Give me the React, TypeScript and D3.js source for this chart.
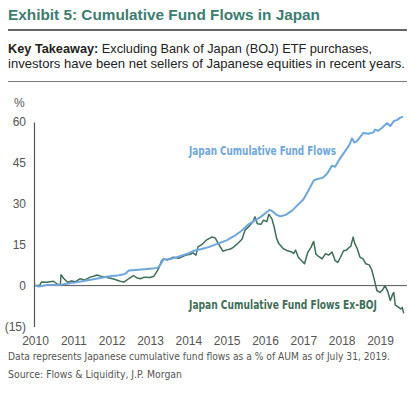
import React, { useEffect, useRef } from 'react';
import * as d3 from 'd3';

const yearTicks = [2010, 2011, 2012, 2013, 2014, 2015, 2016, 2017, 2018, 2019];
const valueTicks = [-15, 0, 15, 30, 45, 60];

// Japan Cumulative Fund Flows (% of AUM)
const totalDates = [
    2010.0, 2010.1, 2010.3, 2010.65, 2010.8, 2011.0, 2011.3, 2011.6, 2011.9, 2012.2,
    2012.35, 2012.45, 2012.7, 2013.0, 2013.2, 2013.28, 2013.35, 2013.55, 2013.8, 2014.0,
    2014.15, 2014.35, 2014.55, 2014.75, 2015.0, 2015.2, 2015.4, 2015.57, 2015.75, 2015.9,
    2016.05, 2016.12, 2016.2, 2016.3, 2016.4, 2016.55, 2016.7, 2016.85, 2017.0, 2017.12,
    2017.27, 2017.35, 2017.5, 2017.62, 2017.75, 2017.83, 2017.95, 2018.1, 2018.2, 2018.27,
    2018.33, 2018.4, 2018.5, 2018.57, 2018.7, 2018.83, 2018.87, 2018.95, 2019.05, 2019.18,
    2019.27, 2019.36, 2019.45, 2019.52, 2019.6,
];
const totalValues = [
    0.0, -0.3, 0.2, 0.3, 0.6, 1.0, 1.8, 2.5, 3.3, 3.8,
    4.3, 5.5, 5.8, 6.2, 6.5, 7.8, 9.6, 9.8, 10.9, 11.8,
    12.8, 13.4, 14.2, 15.3, 16.6, 18.2, 20.2, 22.5, 24.0, 25.3,
    27.0, 27.8, 27.2, 26.0, 25.4, 26.0, 27.4, 29.5, 31.6, 34.5,
    38.5, 39.0, 39.5, 41.0, 44.0, 43.6, 46.5, 49.5, 51.5, 54.0,
    52.5, 53.0, 54.8, 56.0, 55.7, 56.2, 57.2, 56.8, 57.8, 59.6,
    58.5, 60.3, 60.8, 61.5, 62.0,
];

// Japan Cumulative Fund Flows Ex-BOJ (% of AUM)
const exBojDates = [
    2010.0, 2010.12, 2010.17, 2010.3, 2010.48, 2010.6, 2010.66, 2010.68, 2010.75, 2010.85,
    2010.95, 2011.05, 2011.17, 2011.3, 2011.44, 2011.55, 2011.62, 2011.75, 2011.88, 2012.05,
    2012.22, 2012.32, 2012.45, 2012.57, 2012.65, 2012.75, 2012.85, 2013.0, 2013.1, 2013.22,
    2013.3, 2013.35, 2013.45, 2013.61, 2013.75, 2013.92, 2014.05, 2014.12, 2014.2, 2014.25,
    2014.35, 2014.48, 2014.61, 2014.7, 2014.78, 2014.9, 2015.0, 2015.1, 2015.18, 2015.3,
    2015.4, 2015.48, 2015.6, 2015.68, 2015.74, 2015.8, 2015.9, 2015.96, 2016.05, 2016.1,
    2016.18, 2016.24, 2016.3, 2016.36, 2016.48, 2016.57, 2016.7, 2016.75, 2016.8, 2016.87,
    2016.95, 2017.03, 2017.12, 2017.2, 2017.27, 2017.33, 2017.42, 2017.49, 2017.58, 2017.66,
    2017.75, 2017.83, 2017.9, 2017.97, 2018.05, 2018.12, 2018.18, 2018.24, 2018.3, 2018.34,
    2018.4, 2018.48, 2018.56, 2018.63, 2018.72, 2018.78, 2018.82, 2018.87, 2018.92, 2019.0,
    2019.07, 2019.13, 2019.2, 2019.27, 2019.33, 2019.36, 2019.4, 2019.49, 2019.54, 2019.58,
    2019.62,
];
const exBojValues = [
    0.0, 0.1, 1.3, 1.2, 1.6, 0.4, 0.5, 4.0, 2.6, 1.2,
    1.7, 1.4, 2.5, 2.1, 3.1, 3.5, 3.9, 3.3, 3.0, 2.4,
    1.6, 1.3, 2.6, 3.7, 2.9, 2.5, 3.1, 3.0, 3.4, 6.1,
    9.0, 9.8, 9.4, 10.4, 10.0, 11.1, 11.5, 12.0, 11.2, 14.2,
    15.0, 16.8, 17.8, 17.5, 15.5, 12.6, 13.1, 13.4, 14.1, 15.6,
    17.0, 20.3, 22.0, 23.3, 25.2, 22.7, 22.5, 24.0, 23.5, 26.2,
    24.5, 21.5, 17.5, 15.4, 13.5, 12.9, 12.3, 11.8, 13.0, 10.4,
    9.2, 8.0, 12.3, 14.0, 16.2, 11.5, 10.5, 9.8, 11.7, 11.2,
    12.3, 9.2, 8.5, 10.4, 12.8, 13.0, 13.8, 14.5, 17.8, 15.5,
    13.8, 10.4, 9.8, 8.0, 7.6, 6.0, 4.0, 1.2, -1.8, -2.5,
    -1.6, 0.0, -2.0, -5.5, -3.2, -2.5, -7.2, -8.0, -8.6, -8.0,
    -10.2,
];

const BLUE = '#6ea7df';
const GREEN = '#3f6e57';
const TITLE = '#3c7d70';
const GREY = '#555555';
const SANS = '"Liberation Sans", Arial, sans-serif';
const NARROW = '"Liberation Sans Narrow", "Arial Narrow", "DejaVu Sans Condensed", sans-serif';

const App: React.FC = () => {
    const svgRef = useRef<SVGSVGElement>(null);

    useEffect(() => {
        if (!svgRef.current) return;
        const svg = d3.select(svgRef.current);
        svg.selectAll('*').remove();

        const x = d3.scaleLinear().domain([2010, 2020]).range([35, 418.3]);
        const y = d3.scaleLinear().domain([-15, 60]).range([326.5, 122]);

        // Header
        svg.append('text')
            .attr('x', 8).attr('y', 20)
            .attr('textLength', 312).attr('lengthAdjust', 'spacingAndGlyphs')
            .attr('fill', TITLE).style('font', `bold 15px ${SANS}`)
            .text('Exhibit 5: Cumulative Fund Flows in Japan');
        svg.append('line')
            .attr('x1', 8).attr('x2', 407).attr('y1', 30).attr('y2', 30)
            .attr('stroke', '#666').attr('stroke-width', 2);

        const line1 = svg.append('text')
            .attr('x', 8).attr('y', 53)
            .attr('textLength', 364).attr('lengthAdjust', 'spacingAndGlyphs')
            .attr('fill', '#222').style('font', `13px ${SANS}`);
        line1.append('tspan').style('font-weight', 'bold').text('Key Takeaway:');
        line1.append('tspan').text(' Excluding Bank of Japan (BOJ) ETF purchases,');
        svg.append('text')
            .attr('x', 8).attr('y', 68)
            .attr('textLength', 397).attr('lengthAdjust', 'spacingAndGlyphs')
            .attr('fill', '#222').style('font', `13px ${SANS}`)
            .text('investors have been net sellers of Japanese equities in recent years.');
        svg.append('line')
            .attr('x1', 8).attr('x2', 407).attr('y1', 81.5).attr('y2', 81.5)
            .attr('stroke', '#777').attr('stroke-width', 1);

        // Unit label
        svg.append('text')
            .attr('x', 14).attr('y', 107)
            .attr('fill', GREY).style('font', `12px ${SANS}`)
            .text('%');

        // Zero line
        svg.append('line')
            .attr('x1', 34).attr('x2', 407)
            .attr('y1', y(0)).attr('y2', y(0))
            .attr('stroke', GREY).attr('stroke-width', 1);

        // Y axis
        const yAxisG = svg.append('g').attr('transform', 'translate(34,0)');
        yAxisG.call(d3.axisLeft(y)
            .tickValues(valueTicks)
            .tickSize(0)
            .tickSizeOuter(0)
            .tickPadding(8)
            .tickFormat(d => (Number(d) < 0 ? `(${-Number(d)})` : `${d}`)) as any);
        yAxisG.select('.domain').attr('stroke', GREY).attr('stroke-width', 1.2);
        yAxisG.selectAll('text').attr('fill', GREY).style('font', `12px ${SANS}`);

        // X axis
        const xAxisG = svg.append('g').attr('transform', 'translate(0,327)');
        xAxisG.call(d3.axisBottom(x)
            .tickValues(yearTicks)
            .tickSize(0)
            .tickPadding(9)
            .tickFormat(d3.format('d')) as any);
        xAxisG.select('.domain').remove();
        xAxisG.selectAll('text').attr('fill', GREY).style('font', `12px ${SANS}`);

        // Series
        const line = d3.line<[number, number]>()
            .x(d => x(d[0]))
            .y(d => y(d[1]));

        const exBoj = exBojDates.map((d, i) => [d, exBojValues[i]] as [number, number]);
        const total = totalDates.map((d, i) => [d, totalValues[i]] as [number, number]);

        svg.append('path')
            .datum(exBoj)
            .attr('d', line)
            .attr('fill', 'none')
            .attr('stroke', GREEN)
            .attr('stroke-width', 1.5)
            .attr('stroke-linejoin', 'round');

        svg.append('path')
            .datum(total)
            .attr('d', line)
            .attr('fill', 'none')
            .attr('stroke', BLUE)
            .attr('stroke-width', 2)
            .attr('stroke-linejoin', 'round');

        // Series labels
        svg.append('text')
            .attr('x', 189).attr('y', 155)
            .attr('textLength', 147).attr('lengthAdjust', 'spacingAndGlyphs')
            .attr('fill', BLUE).style('font', `bold 12px ${NARROW}`)
            .text('Japan Cumulative Fund Flows');
        svg.append('text')
            .attr('x', 189).attr('y', 309)
            .attr('textLength', 188).attr('lengthAdjust', 'spacingAndGlyphs')
            .attr('fill', GREEN).style('font', `bold 12px ${NARROW}`)
            .text('Japan Cumulative Fund Flows Ex-BOJ');

        // Footnotes
        svg.append('text')
            .attr('x', 8).attr('y', 359.5)
            .attr('textLength', 382).attr('lengthAdjust', 'spacingAndGlyphs')
            .attr('fill', GREY).style('font', `10.5px ${NARROW}`)
            .text('Data represents Japanese cumulative fund flows as a % of AUM as of July 31, 2019.');
        svg.append('text')
            .attr('x', 8).attr('y', 377.5)
            .attr('textLength', 174).attr('lengthAdjust', 'spacingAndGlyphs')
            .attr('fill', GREY).style('font', `10.5px ${NARROW}`)
            .text('Source: Flows & Liquidity, J.P. Morgan');
    }, []);

    return (
        <svg
            ref={svgRef}
            width={414}
            height={396}
            style={{ position: 'absolute', left: 0, top: 0, background: '#fff', display: 'block' }}
        />
    );
};

export default App;
